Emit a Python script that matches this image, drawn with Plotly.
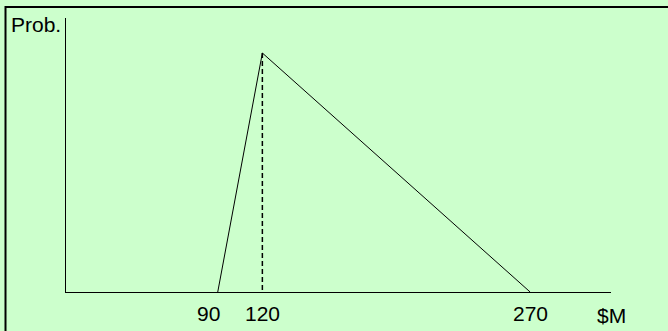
import plotly.graph_objects as go

x_pts = [95, 120, 270]          # low / mode / high ($M)
y_pts = [0, 1 / 90, 0]          # triangular density
tick_vals = [90, 120, 270]
tick_text = ["90", "120", "270"]

peak = max(y_pts)
mode_x = x_pts[y_pts.index(peak)]

fig = go.Figure()

# triangle
fig.add_trace(go.Scatter(
    x=x_pts, y=y_pts, mode="lines",
    line=dict(color="black", width=1),
    hoverinfo="skip"
))

# dashed line under the mode
fig.add_trace(go.Scatter(
    x=[mode_x, mode_x], y=[peak, 0], mode="lines",
    line=dict(color="black", width=1.5, dash="5px,3px"),
    hoverinfo="skip"
))

# tick labels under the axis
for v, t in zip(tick_vals, tick_text):
    fig.add_annotation(x=v, y=0, xref="x", yref="y", text=t, showarrow=False,
                       xanchor="center", yanchor="middle", yshift=-21,
                       font=dict(family="Liberation Sans, Arial", size=21, color="black"))

fig.add_annotation(x=1, y=0, xref="paper", yref="y", text="$M", showarrow=False,
                   xanchor="center", yanchor="middle", yshift=-23,
                   font=dict(family="Liberation Sans, Arial", size=21, color="black"))

fig.add_annotation(x=0, y=1, xref="paper", yref="paper", text="Prob.", showarrow=False,
                   xanchor="right", xshift=-3, yanchor="middle", yshift=-6,
                   font=dict(family="Liberation Sans, Arial", size=21, color="black"))

# outer frame (right and bottom edges fall outside the picture)
fig.add_shape(type="rect", xref="paper", yref="paper",
              x0=-0.111, y0=-0.3, x1=1.3, y1=1.04,
              line=dict(color="black", width=2), fillcolor="rgba(0,0,0,0)")

fig.update_layout(
    width=668, height=331,
    margin=dict(l=66, r=57, t=18, b=39),
    paper_bgcolor="#CCFFCC",
    plot_bgcolor="#CCFFCC",
    showlegend=False,
    xaxis=dict(range=[10, 315.3], showline=True, linecolor="black", linewidth=1,
               showgrid=False, zeroline=False, showticklabels=False, ticks=""),
    yaxis=dict(range=[0, 0.01274], showline=True, linecolor="black", linewidth=1,
               showgrid=False, zeroline=False, showticklabels=False, ticks=""),
)

# page has a default body margin; drop it so the figure sits at the corner
fig.write_html("out.html", config={"displayModeBar": False},
               post_script="document.body.style.margin='0';document.body.style.overflow='hidden';")
